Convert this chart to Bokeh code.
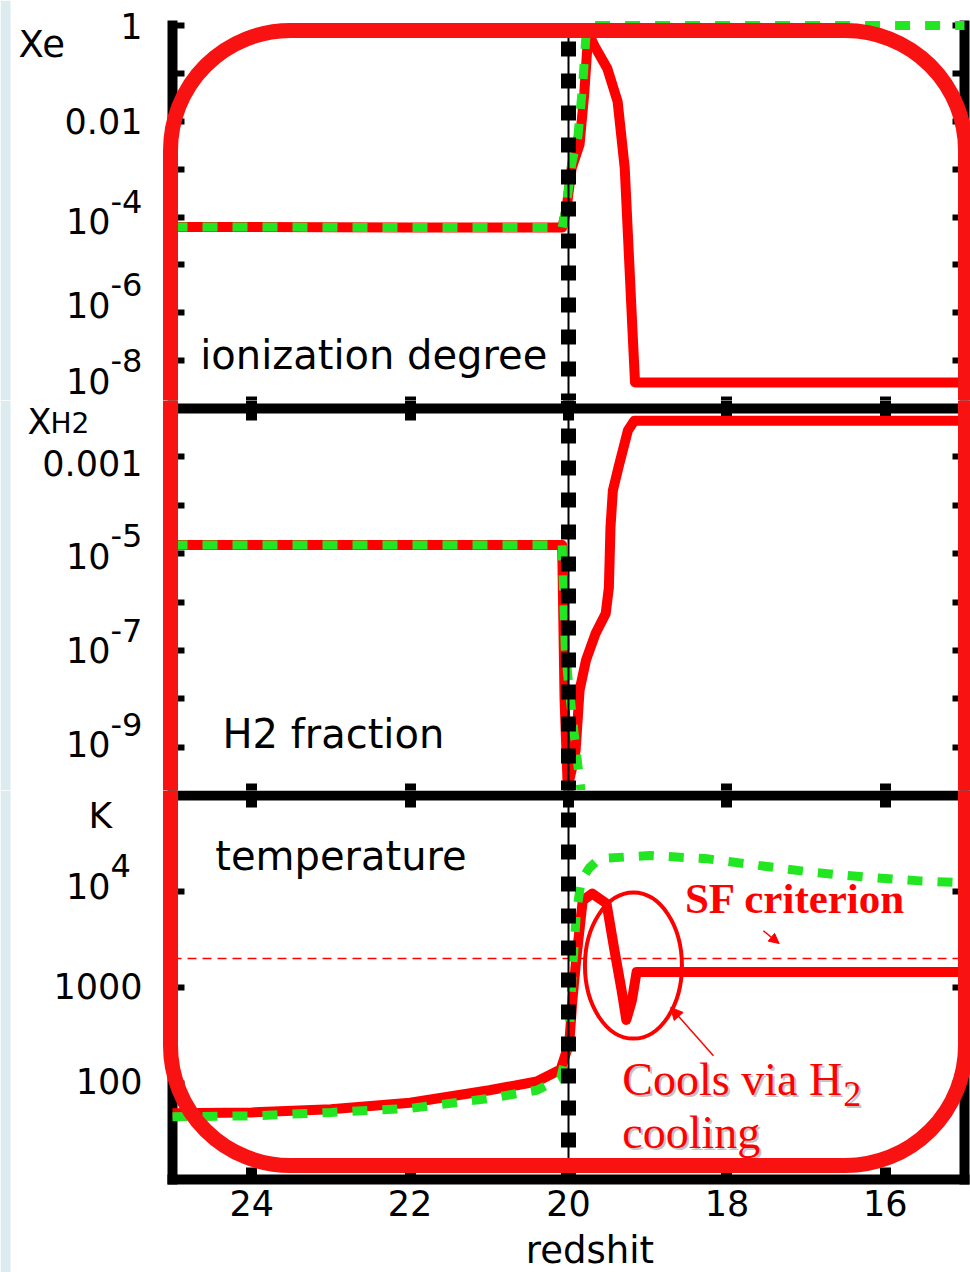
from bokeh.plotting import figure
from bokeh.layouts import column
from bokeh.models import (Range1d, FixedTicker, LinearAxis, LogAxis, Label,
                          BoxAnnotation, Arrow, NormalHead, CustomLabelingPolicy)
from bokeh.embed import file_html
from bokeh.resources import INLINE

# ---------------- data ----------------
# ionization degree Xe
z_xe_red = [25.0, 24.0, 23.0, 22.0, 21.0, 20.08, 20.03, 19.96, 19.86, 19.80, 19.76, 19.72,
            19.67, 19.51, 19.38, 19.29, 19.25, 19.19, 19.16, 18.0, 17.0, 16.0, 15.0]
xe_red = [6.2e-5, 6.2e-5, 6.1e-5, 6.0e-5, 6.0e-5, 6.0e-5, 1.3e-4, 1.05e-3, 3.3e-3, 4.0e-2, 0.40, 0.55,
          0.37, 0.126, 0.026, 1.05e-3, 4.4e-5, 3.6e-7, 3.5e-8, 3.5e-8, 3.5e-8, 3.5e-8, 3.5e-8]
z_xe_green = [25.0, 24.0, 23.0, 22.0, 21.0, 20.08, 20.03, 19.96, 19.88, 19.82, 19.78, 19.74,
              18.0, 17.0, 16.0, 15.0]
xe_green = [6.2e-5, 6.2e-5, 6.1e-5, 6.0e-5, 6.0e-5, 6.0e-5, 1.6e-4, 1.3e-3, 5.0e-3, 0.06, 0.6, 1.0,
            1.0, 1.0, 1.0, 1.0]

# H2 fraction
z_h2_red = [25.0, 24.0, 23.0, 22.0, 21.0, 20.08, 20.05, 20.01, 19.95, 19.91, 19.86, 19.78,
            19.66, 19.53, 19.49, 19.47, 19.44, 19.37, 19.25, 19.17, 18.0, 17.0, 16.0, 15.0]
h2_red = [1.5e-5, 1.5e-5, 1.5e-5, 1.5e-5, 1.5e-5, 1.5e-5, 1e-8, 1.5e-10, 4e-10, 8.5e-10, 1.5e-8, 6.2e-8,
          2.2e-7, 5.8e-7, 2e-6, 3.5e-5, 2e-4, 6e-4, 3.5e-3, 5.6e-3, 5.6e-3, 5.6e-3, 5.6e-3, 5.6e-3]
z_h2_green = [25.0, 24.0, 23.0, 22.0, 21.0, 20.08, 20.04, 19.99, 19.93, 19.88, 19.84, 19.78,
              19.7, 18.0, 17.0, 16.0, 15.0]
h2_green = [1.5e-5, 1.5e-5, 1.5e-5, 1.5e-5, 1.5e-5, 1.5e-5, 1e-7, 1.5e-8, 2e-9, 4e-10, 1.2e-10, 3e-11,
            1e-12, 1e-12, 1e-12, 1e-12, 1e-12]

# temperature [K]
z_t_red = [25.0, 24.0, 23.0, 22.0, 21.0, 20.4, 20.1, 19.99, 19.95, 19.90, 19.82, 19.70,
           19.52, 19.42, 19.33, 19.27, 19.20, 19.14, 18.0, 17.0, 16.0, 15.0]
t_red = [49, 50, 54, 63, 85, 105, 140, 263, 750, 2040, 8100, 9500,
         7500, 2450, 940, 460, 730, 1450, 1450, 1450, 1450, 1450]
z_t_green = [25.0, 24.0, 23.0, 22.0, 21.0, 20.4, 20.1, 20.0, 19.95, 19.9, 19.84, 19.74,
             19.61, 18.97, 18.25, 17.58, 16.91, 16.23, 15.56, 15.0]
t_green = [45, 46, 50, 55, 70, 85, 113, 250, 1500, 6000, 13000, 17500,
           22000, 23700, 21900, 18600, 15800, 14100, 12900, 12300]

SF_T = 2000          # star-formation temperature criterion
EVENT_Z = 20         # dotted vertical marker
Z_MAX, Z_MIN = 25, 15

# ticks / labels
x_ticks = [24, 22, 20, 18, 16]
xe_ticks = [1, 1e-1, 1e-2, 1e-3, 1e-4, 1e-5, 1e-6, 1e-7, 1e-8]
h2_ticks = [1e-2, 1e-3, 1e-4, 1e-5, 1e-6, 1e-7, 1e-8, 1e-9, 1e-10]
t_ticks = [1e5, 1e4, 1e3, 1e2, 1e1]
xe_label_vals = [1, 1e-2, 1e-4, 1e-6, 1e-8]
xe_label_text = ["1", "0.01", "10^-4", "10^-6", "10^-8"]
h2_label_vals = [1e-3, 1e-5, 1e-7, 1e-9]
h2_label_text = ["0.001", "10^-5", "10^-7", "10^-9"]
t_label_vals = [1e4, 1e3, 1e2]
t_label_text = ["10^4", "1000", "100"]

# ---------------- styles / geometry ----------------
FONT = "DejaVu Sans"
SERIF = "Liberation Serif"
RED = "#ff0000"
BOX_RED = "#f81212"
GREEN = "#22e622"
STRIP = "#dcebf0"
W = 970
PX_PER_Z = 79.2
LEFT_PAD, RIGHT_PAD = 172, 6
X0 = Z_MAX

xe_nudge = [0, 0, -4, 8, 28]
h2_nudge = [-6, -2, 0, 3]
t_nudge = [6, 2, 3]

xr = Range1d(Z_MAX + LEFT_PAD / PX_PER_Z, Z_MIN - RIGHT_PAD / PX_PER_Z)


def no_labels():
    return CustomLabelingPolicy(code="return []")


def log_range(top_val, top_px, ppd, height):
    """y range of a canvas of `height` px where top_val sits top_px below its top edge."""
    return Range1d(top_val * 10 ** (-(height - top_px) / ppd), top_val * 10 ** (top_px / ppd))


def at_px(top_val, top_px, ppd, px):
    return top_val * 10 ** (-(px - top_px) / ppd)


def panel(height, yrange, vbounds, yticks, hlines):
    p = figure(width=W, height=height, x_range=xr, y_range=yrange, y_axis_type="log",
               x_axis_location=None, y_axis_location=None, output_backend="svg",
               toolbar_location=None, min_border=0, min_border_left=0, min_border_right=0,
               min_border_top=0, min_border_bottom=0)
    p.outline_line_color = None
    p.grid.visible = False
    p.background_fill_color = "white"
    p.border_fill_color = "white"
    p.add_layout(BoxAnnotation(left=xr.start, right=xr.start - 10 / PX_PER_Z,
                               fill_color=STRIP, fill_alpha=1.0, line_color=None,
                               level="underlay"))
    # vertical frame lines with decade ticks
    for loc, side in ((Z_MAX, "left"), (Z_MIN, "right")):
        ax = LogAxis(fixed_location=loc, bounds=vbounds,
                     ticker=FixedTicker(ticks=yticks, minor_ticks=[]),
                     axis_line_width=10, axis_line_color="black", axis_line_cap="square",
                     major_tick_in=12, major_tick_out=0, major_tick_line_width=6,
                     major_tick_line_color="black", minor_tick_line_color=None,
                     major_label_policy=no_labels(), level="underlay")
        p.add_layout(ax, side)
    # horizontal frame lines (separators) with redshift ticks
    for loc, side, ticks, tin, tout in hlines:
        ax = LinearAxis(fixed_location=loc, bounds=(Z_MIN, Z_MAX),
                        ticker=FixedTicker(ticks=ticks, minor_ticks=[]),
                        axis_line_width=10, axis_line_color="black", axis_line_cap="square",
                        major_tick_in=tin, major_tick_out=tout, major_tick_line_width=11,
                        major_tick_line_color="black", minor_tick_line_color=None,
                        major_label_policy=no_labels(), level="underlay")
        p.add_layout(ax, side)
    return p


def ylabels(p, vals, texts, nudges):
    for v, t, n in zip(vals, texts, nudges):
        if "^" in t:
            base, ex = t.split("^")
            p.add_layout(Label(x=X0, y=v, x_offset=-62, y_offset=n, text=base, text_align="right",
                               text_baseline="middle", text_font=FONT,
                               text_font_size="35px", text_color="black"))
            p.add_layout(Label(x=X0, y=v, x_offset=-62, y_offset=n + 20, text=ex, text_align="left",
                               text_baseline="middle", text_font=FONT,
                               text_font_size="32px", text_color="black"))
        else:
            p.add_layout(Label(x=X0, y=v, x_offset=-30, y_offset=n, text=t, text_align="right",
                               text_baseline="middle", text_font=FONT,
                               text_font_size="35px", text_color="black"))


def txt(p, x, y, text, size, xo=0, yo=0, align="left", font=FONT, color="black", style="normal"):
    p.add_layout(Label(x=x, y=y, x_offset=xo, y_offset=yo, text=text, text_align=align,
                       text_baseline="middle", text_font=font, text_font_size=size,
                       text_color=color, text_font_style=style))


def curves(p, zr, vr, zg, vg):
    p.line(zr, vr, line_color=RED, line_width=10, line_join="round")
    p.line(zg, vg, line_color=GREEN, line_width=9, line_dash="15 15")


def marker(p, lo, hi):
    p.line([EVENT_Z, EVENT_Z], [lo, hi], line_color="black", line_width=2)
    p.line([EVENT_Z, EVENT_Z], [lo, hi], line_color="black", line_width=15, line_dash="15 17")


def red_box(p, top, bottom):
    p.add_layout(BoxAnnotation(left=Z_MAX + 2 / PX_PER_Z, right=Z_MIN - 1 / PX_PER_Z,
                               top=top, bottom=bottom,
                               fill_color=None, fill_alpha=0, line_color=BOX_RED,
                               line_alpha=1.0, line_width=15, border_radius=120))


# ---------------- top: ionization degree (canvas 0..400) ----------------
XE_LO, XE_HI = 1e-8, 1.0
G1 = (XE_HI, 25, 47.875)
p1 = panel(400, log_range(*G1, 400), (XE_LO, XE_HI), xe_ticks,
           [(XE_LO, "below", x_ticks, 12, 0)])
curves(p1, z_xe_red, xe_red, z_xe_green, xe_green)
marker(p1, XE_LO, XE_HI)
ylabels(p1, xe_label_vals, xe_label_text, xe_nudge)
txt(p1, X0, XE_HI, "Xe", "37px", xo=-154, yo=-19)
txt(p1, 24.65, at_px(*G1, 354), "ionization degree", "40px")
red_box(p1, at_px(*G1, 30), 1e-40)

# ---------------- middle: H2 fraction (canvas 400..790) ----------------
H2_LO, H2_HI = 1e-10, 1e-2
G2 = (H2_HI, 8, 48.375)
p2 = panel(390, log_range(*G2, 390), (H2_LO, at_px(*G2, 0)), h2_ticks,
           [(H2_HI, "above", x_ticks, 12, 12), (H2_LO, "below", x_ticks, 12, 0)])
curves(p2, z_h2_red, h2_red, z_h2_green, h2_green)
marker(p2, H2_LO, at_px(*G2, 0))
ylabels(p2, h2_label_vals, h2_label_text, h2_nudge)
txt(p2, X0, H2_HI, "X", "35px", xo=-145, yo=-13)
txt(p2, X0, H2_HI, "H2", "28px", xo=-122, yo=-15)
txt(p2, 24.37, at_px(*G2, 733 - 400), "H2 fraction", "40px")
red_box(p2, 1e30, 1e-40)

# ---------------- bottom: temperature (canvas 790..1272) ----------------
T_LO, T_HI = 10, 1e5
G3 = (T_HI, 5, 96.0)
p3 = panel(482, log_range(*G3, 482), (T_LO, at_px(*G3, 0)), t_ticks,
           [(T_HI, "above", x_ticks, 12, 12), (T_LO, "below", x_ticks, 12, 0)])
p3.line([Z_MAX, Z_MIN], [SF_T, SF_T], line_color=RED, line_width=1.5, line_dash="9 6")
curves(p3, z_t_red, t_red, z_t_green, t_green)
marker(p3, T_LO, at_px(*G3, 0))
xb = LinearAxis(fixed_location=T_LO, bounds=(Z_MIN, Z_MAX),
                ticker=FixedTicker(ticks=x_ticks, minor_ticks=[]),
                axis_line_color=None, major_tick_line_color=None, minor_tick_line_color=None,
                major_tick_in=0, major_tick_out=0,
                major_label_text_font=FONT, major_label_text_font_size="35px",
                major_label_text_color="black", major_label_standoff=10)
p3.add_layout(xb, "below")
ylabels(p3, t_label_vals, t_label_text, t_nudge)
txt(p3, X0, T_HI, "K", "36px", xo=-84, yo=-20)
txt(p3, 24.46, at_px(*G3, 855 - 790), "temperature", "40px")
txt(p3, 19.73, T_LO, "redshit", "37px", yo=-71, align="center")

# annotations
p3.ellipse(x=[19.18], y=[1690], width=97, height=146, width_units="screen",
           height_units="screen", fill_color=None, line_color=RED, line_width=4)
txt(p3, 18.53, at_px(*G3, 898 - 790), "SF criterion", "43px", font=SERIF, color=RED, style="bold")
p3.add_layout(Arrow(end=NormalHead(size=10, fill_color=RED, line_color=RED),
                    x_start=17.54, y_start=3900, x_end=17.34, y_end=2870,
                    line_color=RED, line_width=1.5))
for dx, dy, col in ((2, -2, "#c4c4c4"), (0, 0, RED)):
    txt(p3, 19.32, at_px(*G3, 1079 - 790), "Cools via H", "46px", xo=dx, yo=dy, font=SERIF, color=col)
    txt(p3, 16.53, at_px(*G3, 1093 - 790), "2", "36px", xo=dx, yo=dy, font=SERIF, color=col)
    txt(p3, 19.32, at_px(*G3, 1132 - 790), "cooling", "46px", xo=dx, yo=dy, font=SERIF, color=col)
p3.add_layout(Arrow(end=NormalHead(size=12, fill_color=RED, line_color=RED),
                    x_start=18.17, y_start=195, x_end=18.71, y_end=620,
                    line_color=RED, line_width=1.5))
red_box(p3, 1e30, at_px(*G3, 1165 - 790))

layout = column(p1, p2, p3, spacing=0)
open("out.html", "w").write(file_html(layout, INLINE))
